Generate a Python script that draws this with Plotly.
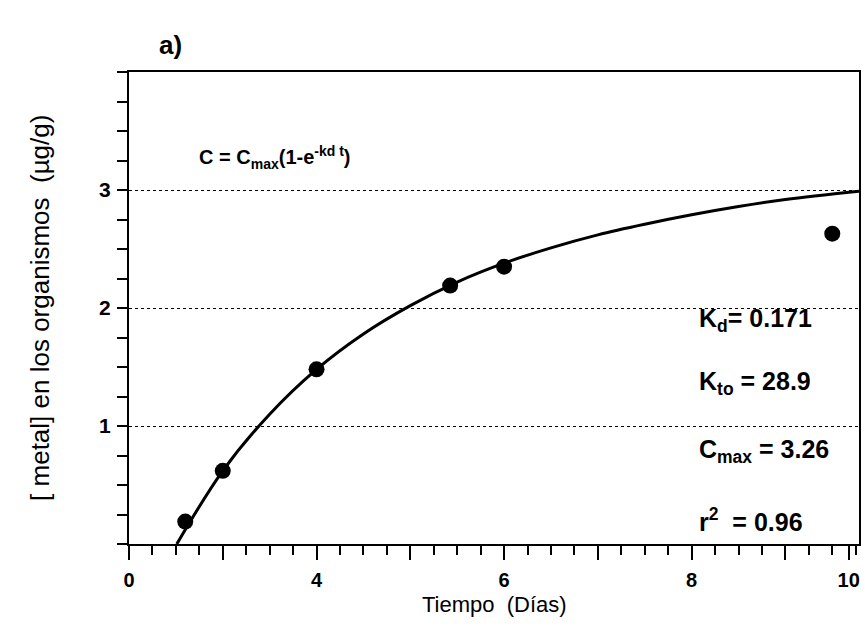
import plotly.graph_objects as go

# Measured concentration of metal in the organisms over time
dias = [1.2, 2.0, 4.0, 6.85, 8.0, 15.0]
metal = [0.19, 0.62, 1.48, 2.19, 2.35, 2.63]

# Fitted uptake curve C = Cmax(1 - e^(-kd t)), sampled along its trace
curva_t = [1.02, 2.0, 3.0, 4.0, 5.0, 6.0, 7.0, 8.0, 9.0, 10.0, 11.0, 12.0, 13.0, 14.0, 15.57]
curva_c = [0.0, 0.62, 1.1, 1.48, 1.78, 2.02, 2.22, 2.38, 2.51, 2.62, 2.71, 2.79, 2.86, 2.92, 2.99]

# Axis tick positions and printed labels
x_tickvals = [0, 2, 4, 6, 8, 10, 12, 14, 15.35]
x_ticktext = ["0", "", "4", "", "6", "", "8", "", "10"]
y_tickvals = [1, 2, 3]
y_ticktext = ["1", "2", "3"]

FONT = "Arial"

fig = go.Figure()
fig.add_trace(go.Scatter(
    x=curva_t, y=curva_c, mode="lines",
    line=dict(color="black", width=3, shape="spline", smoothing=1.0),
    showlegend=False, hoverinfo="skip",
))
fig.add_trace(go.Scatter(
    x=dias, y=metal, mode="markers",
    marker=dict(color="black", size=16),
    showlegend=False,
))

fig.update_layout(
    width=865, height=634,
    margin=dict(l=129, r=4, t=72, b=90),
    paper_bgcolor="white", plot_bgcolor="white",
    xaxis=dict(
        range=[0, 15.57], tickmode="array",
        tickvals=x_tickvals, ticktext=x_ticktext,
        ticks="outside", ticklen=14, tickwidth=2, tickcolor="black",
        minor=dict(dtick=0.5, tick0=0, ticks="outside", ticklen=9,
                   tickwidth=1.5, tickcolor="black"),
        showline=True, linewidth=2, linecolor="black", mirror=True,
        showgrid=False, zeroline=False,
        tickfont=dict(family=FONT, size=20, color="black", weight="bold"),
        ticklabelstandoff=3,
    ),
    yaxis=dict(
        range=[0, 4], tickmode="array",
        tickvals=y_tickvals, ticktext=y_ticktext,
        ticks="outside", ticklen=10, tickwidth=2, tickcolor="black",
        minor=dict(dtick=0.25, tick0=0, ticks="outside", ticklen=10,
                   tickwidth=1.5, tickcolor="black"),
        showline=True, linewidth=2, linecolor="black", mirror=True,
        showgrid=True, gridcolor="black", gridwidth=1, griddash="dot",
        zeroline=False,
        tickfont=dict(family=FONT, size=21, color="black", weight="bold"),
        ticklabelstandoff=2,
    ),
)

def texto(x, y, txt, size, bold=True, xanchor="left", angle=0):
    fig.add_annotation(
        x=x, y=y, xref="paper", yref="paper", text=txt, showarrow=False,
        xanchor=xanchor, yanchor="middle", textangle=angle,
        font=dict(family=FONT, size=size, color="black",
                  weight="bold" if bold else "normal"),
    )

# Panel tag, equation and fit parameters
texto(0.038, 1.058, "a)", 26)
texto(0.093, 0.818, "C = C<sub>max</sub>(1-e<sup>-kd t</sup>)", 20)
texto(0.778, 0.475, "K<sub>d</sub>= 0.171", 25)
texto(0.778, 0.342, "K<sub>to</sub> = 28.9", 25)
texto(0.778, 0.196, "C<sub>max</sub> = 3.26", 25)
texto(0.778, 0.051, "r<sup>2</sup>  = 0.96", 25)

# Axis titles
texto(0.5, -0.128, "Tiempo  (Días)", 22, bold=False, xanchor="center")
fig.add_annotation(
    x=-0.122, y=0.5, xref="paper", yref="paper",
    text="[ metal] en los organismos  (µg/g)", showarrow=False,
    textangle=-90, xanchor="center", yanchor="middle",
    font=dict(family=FONT, size=26, color="black"),
)

fig.write_html("out.html")
